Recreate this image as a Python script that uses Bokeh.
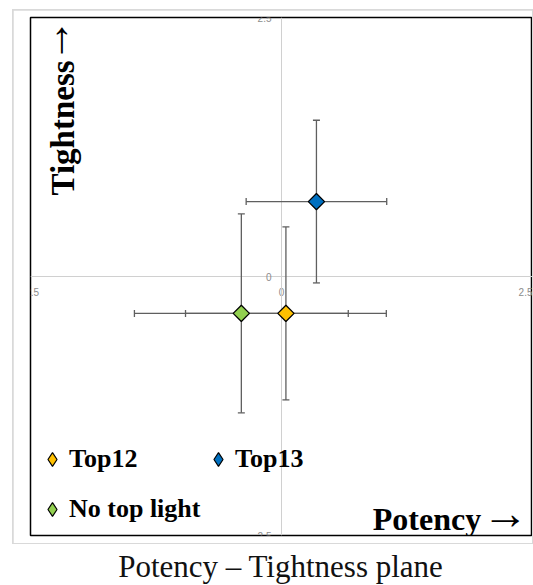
import math
from bokeh.plotting import figure
from bokeh.models import (ColumnDataSource, Whisker, TeeHead, Label, Legend,
                          LegendItem, FixedTicker, Div)
from bokeh.layouts import column
from bokeh.embed import file_html
from bokeh.resources import INLINE

# ---- data ----
series = ["Top12", "Top13", "No top light"]
potency = [0.044, 0.348, -0.40]
tightness = [-0.356, 0.723, -0.356]
potency_err = [1.0, 0.70, 1.065]
tightness_err = [0.835, 0.785, 0.96]
colors = ["#FFC000", "#0070C0", "#92D050"]
tick_values = [-2.5, 0, 2.5]
tick_labels = ["-2.5", "0", "2.5"]

p = figure(width=519, height=533, x_range=(-2.5, 2.5), y_range=(-2.5, 2.5),
           output_backend="svg", toolbar_location=None,
           min_border_left=17, min_border_right=0, min_border_top=7, min_border_bottom=8,
           margin=(1, 1, 1, 1))
p.outline_line_color = "black"
p.outline_line_width = 1.5
p.grid.visible = False
p.background_fill_color = "white"
p.border_fill_color = "white"

overrides = {v: t for v, t in zip(tick_values, tick_labels)}
for ax in (p.xaxis[0], p.yaxis[0]):
    ax.fixed_location = 0
    ax.ticker = FixedTicker(ticks=tick_values)
    ax.major_label_overrides = dict(overrides)
    ax.major_tick_line_color = None
    ax.minor_tick_line_color = None
    ax.major_tick_out = 0
    ax.major_tick_in = 0
    ax.axis_line_color = "#d0d0d0"
    ax.axis_line_width = 1
    ax.major_label_text_color = "#8c8c8c"
    ax.major_label_text_font = "Liberation Sans"
    ax.major_label_text_font_size = "10px"
    ax.level = "underlay"
p.xaxis[0].major_label_standoff = 11
p.yaxis[0].major_label_standoff = 10

legend_proxies = {}
for name, x, y, ex, ey, c in zip(series, potency, tightness, potency_err, tightness_err, colors):
    src = ColumnDataSource(dict(x=[x], y=[y], xlo=[x - ex], xhi=[x + ex],
                                ylo=[y - ey], yhi=[y + ey]))
    for dim, base, lo, hi in (("width", "y", "xlo", "xhi"), ("height", "x", "ylo", "yhi")):
        w = Whisker(source=src, base=base, lower=lo, upper=hi, dimension=dim,
                    line_color="#5f5f5f", line_width=1.3,
                    upper_head=TeeHead(size=7, line_color="#5f5f5f", line_width=1.3),
                    lower_head=TeeHead(size=7, line_color="#5f5f5f", line_width=1.3))
        p.add_layout(w)
    p.scatter("x", "y", source=src, marker="square", size=11.5, angle=math.pi / 4,
              fill_color=c, line_color="black", line_width=1.3)
    # legend swatch (diamond), not drawn in the plot itself
    legend_proxies[name] = p.scatter("x", "y", source=src, marker="diamond", size=16,
                                     fill_color=c, line_color="black", line_width=1.2,
                                     visible=False)

leg_kw = dict(orientation="vertical", glyph_width=34, glyph_height=34,
              label_text_font="Liberation Serif", label_text_font_style="bold",
              label_text_font_size="26px", label_text_color="black",
              label_standoff=0, spacing=16,
              padding=0, margin=0, border_line_color=None, background_fill_alpha=0)
leg1 = Legend(items=[LegendItem(label="Top12", renderers=[legend_proxies["Top12"]]),
                     LegendItem(label="No top light", renderers=[legend_proxies["No top light"]])],
              location=(5, 9), **leg_kw)
leg2 = Legend(items=[LegendItem(label="Top13", renderers=[legend_proxies["Top13"]])],
              location=(171, 59), **leg_kw)
p.add_layout(leg1)
p.add_layout(leg2)

# axis names inside the plot area
p.add_layout(Label(x=-2.181, y=0.782, text="Tightness", angle=math.pi / 2,
                   text_align="left", text_baseline="alphabetic",
                   text_font="Liberation Serif", text_font_style="bold",
                   text_font_size="33px", text_color="black"))
p.add_layout(Label(x=-2.261, y=2.278, text="→", angle=math.pi / 2,
                   text_align="center", text_baseline="middle",
                   text_font="Liberation Serif", text_font_size="44px", text_color="black"))
p.add_layout(Label(x=1.989, y=-2.339, text="Potency",
                   text_align="right", text_baseline="alphabetic",
                   text_font="Liberation Serif", text_font_style="bold",
                   text_font_size="32px", text_color="black"))
p.add_layout(Label(x=2.231, y=-2.291, text="→",
                   text_align="center", text_baseline="middle",
                   text_font="Liberation Serif", text_font_size="46px", text_color="black"))

# light-grey chart-area border: 1px of background showing around the figure
chart_area = column(p, margin=(9, 0, 0, 12), spacing=0,
                    styles={"background-color": "#d9d9d9"})

caption = Div(text=('<div style="position:relative; top:7px; width:521px; box-sizing:border-box; '
                    'padding-left:16px; text-align:center; white-space:nowrap; '
                    'font-family:\'Liberation Serif\'; font-size:31px; line-height:31px; '
                    'color:#111;">Potency – Tightness plane</div>'),
              width=521, height=33, margin=(0, 0, 0, 12))

layout = column(chart_area, caption, spacing=0)
open("out.html", "w").write(file_html(layout, INLINE))
